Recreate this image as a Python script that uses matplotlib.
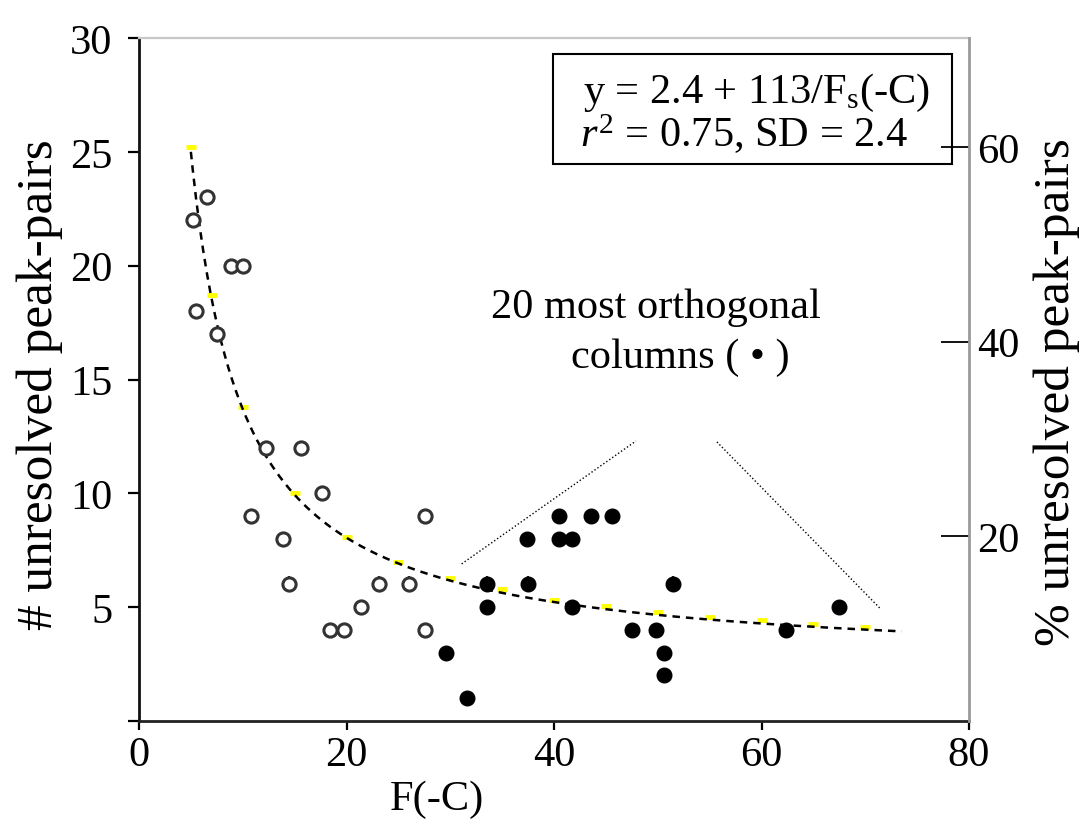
import numpy as np
import matplotlib
matplotlib.use("Agg")
import matplotlib.pyplot as plt
from matplotlib.patches import Rectangle

plt.rcParams['font.family'] = ['Liberation Serif', 'DejaVu Serif']
plt.rcParams['mathtext.fontset'] = 'custom'
plt.rcParams['mathtext.rm'] = 'Liberation Serif'
plt.rcParams['mathtext.it'] = 'Liberation Serif:italic'

# ---- data ----
open_x = [6.6, 5.2, 8.9, 10.0, 5.5, 7.5, 12.2, 15.6, 17.6, 10.8, 27.6, 13.9,
          14.5, 23.1, 26.0, 21.4, 18.4, 19.8, 27.6]
open_y = [23, 22, 20, 20, 18, 17, 12, 12, 10, 9, 9, 8,
          6, 6, 6, 5, 4, 4, 4]

filled_x = [29.6, 31.6, 40.5, 43.6, 45.6, 37.4, 40.5, 41.7, 33.5, 37.5, 51.5,
            33.5, 41.7, 47.5, 49.8, 50.6, 50.6, 62.4, 67.5]
filled_y = [3, 1, 9, 9, 9, 8, 8, 8, 6, 6, 6,
            5, 5, 4, 4, 3, 2, 4, 5]

tie_x = [14.5, 23.1, 26.0, 33.5, 37.5, 51.5]
tie_y = [6, 6, 6, 6, 6, 6]

fit_a = 2.4
fit_b = 113.0
fit_xmin, fit_xmax = 5.0, 73.5

yellow_x = [5, 7, 10, 15, 20, 25, 30, 35, 40, 45, 50, 55, 60, 65, 70]
yellow_y = [25.2, 18.7, 13.8, 10.0, 8.1, 7.0, 6.3, 5.8, 5.3, 5.05, 4.8, 4.57, 4.44, 4.26, 4.13]

pointer1_x = [31.1, 47.9]
pointer1_y = [6.9, 12.3]
pointer2_x = [55.7, 71.4]
pointer2_y = [12.26, 4.96]

x_ticks = [0, 20, 40, 60, 80]
y_ticks = [0, 5, 10, 15, 20, 25, 30]
y_ticklabels = ['', '5', '10', '15', '20', '25', '30']
pct_ticks = [20, 40, 60]

FS = 30.5
FS_LAB = 37

fig = plt.figure(figsize=(10.83, 8.37), dpi=100)
ax = fig.add_axes([139/1083, 1-722/837, 830/1083, 683/837])

ax.set_xlim(0, 80)
ax.set_ylim(0, 30)

# fit curve
xf = np.linspace(fit_xmin, fit_xmax, 400)
ax.plot(yellow_x, yellow_y, linestyle='none', marker='_', color='#ffff00',
        markersize=7, markeredgewidth=3.5, zorder=2)
ax.plot(xf, fit_a + fit_b / xf, linestyle=(0, (3.0, 2.4)), color='black', lw=1.8, zorder=3)

# pointer lines
ax.plot(pointer1_x, pointer1_y, linestyle=(0, (1, 1.6)), color='black', lw=1.0)
ax.plot(pointer2_x, pointer2_y, linestyle=(0, (1, 1.6)), color='black', lw=1.0)

# tie marks
ax.plot(tie_x, tie_y, linestyle='none', marker='|', color='#222222',
        markersize=12, markeredgewidth=1.6, zorder=4)
# points
ax.plot(open_x, open_y, linestyle='none', marker='o', markerfacecolor='white',
        markeredgecolor='#333333', markeredgewidth=2.2, markersize=9.5, zorder=5)
ax.plot(filled_x, filled_y, linestyle='none', marker='o', markerfacecolor='black',
        markeredgecolor='black', markeredgewidth=1.0, markersize=10.5, zorder=5)

# spines
ax.spines['left'].set_color('#111111')
ax.spines['left'].set_linewidth(2.0)
ax.spines['bottom'].set_color('#222222')
ax.spines['bottom'].set_linewidth(2.0)
ax.spines['top'].set_color('#c8c8c8')
ax.spines['top'].set_linewidth(1.6)
ax.spines['right'].set_visible(False)

ax.set_xticks(x_ticks)
ax.set_xticklabels([str(v) for v in x_ticks])
ax.set_yticks(y_ticks)
ax.set_yticklabels(y_ticklabels)
ax.tick_params(axis='y', direction='out', length=8, width=1.6, pad=11, labelsize=FS)
ax.tick_params(axis='x', direction='out', length=6.5, width=1.6, pad=4, labelsize=FS)

# right axis
ax2 = ax.twinx()
ax2.set_ylim(1.0, 71.2)
ax2.set_yticks(pct_ticks)
ax2.set_yticklabels([str(v) for v in pct_ticks])
for s in ['left', 'top', 'bottom']:
    ax2.spines[s].set_visible(False)
ax2.spines['right'].set_color('#9a9a9a')
ax2.spines['right'].set_linewidth(2.0)
ax2.tick_params(axis='y', direction='in', length=20, width=1.3, pad=6, labelsize=FS)

# labels
fig.text(40/1083, 1-385/837, '# unresolved peak-pairs', rotation=90,
         ha='center', va='center', fontsize=FS_LAB)
fig.text(1057/1083, 1-392/837, '% unresolved peak-pairs', rotation=90,
         ha='center', va='center', fontsize=FS_LAB)
fig.text(437/1083, 1-800/837, 'F(-C)', ha='center', va='center', fontsize=FS)

# equation box
ax.add_patch(Rectangle((0.4988, 0.8155), 0.9795-0.4988, 0.9766-0.8155,
                       transform=ax.transAxes, fill=False, edgecolor='black',
                       lw=1.5, zorder=6))
ax.text(0.535, 0.906, r'y = 2.4 + 113/F$_\mathrm{s}$(-C)', transform=ax.transAxes,
        ha='left', va='baseline', fontsize=FS, zorder=7)
ax.text(0.531, 0.842, r'$r^2$ = 0.75, SD = 2.4', transform=ax.transAxes,
        ha='left', va='baseline', fontsize=FS, zorder=7)

# annotation
ax.text(49.8, 18.2, '20 most orthogonal', ha='center', va='center', fontsize=FS)
ax.text(52.2, 16.0, 'columns ( \u2022 )', ha='center', va='center', fontsize=FS)

fig.savefig('out.png', dpi=100)
